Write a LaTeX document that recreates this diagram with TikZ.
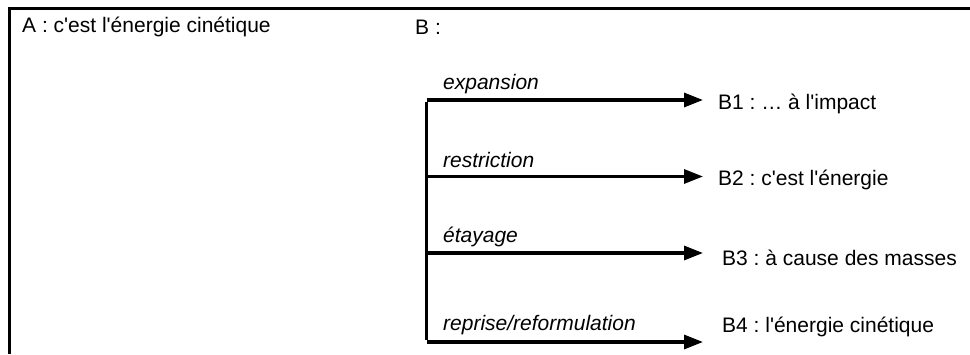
\documentclass[tikz,border=0pt]{standalone}
\usepackage{fontspec}
\setmainfont{Liberation Sans}
\usetikzlibrary{arrows.meta}
\newcommand{\q}{\textquotesingle}
\frenchspacing
\begin{document}
\begin{tikzpicture}[x=1pt,y=-1pt,
  txt/.style={anchor=west,inner sep=0pt,font=\fontsize{21}{25}\selectfont},
  lbl/.style={txt,font=\fontsize{21}{25}\selectfont\itshape},
  thick line/.style={line width=3.2pt},
  arr/.style={thick line,-{Triangle[length=19pt,width=14pt]}}]
\useasboundingbox (0,0) rectangle (970,354);
\draw[thick line] (9.5,354) -- (9.5,8.5) -- (970,8.5);
\node[txt] (A) at (22,27) {A : c\q est l\q énergie cinétique};
\node[txt] (B) at (415,27) {B :};
\coordinate (j1) at (426.5,100);
\coordinate (j2) at (426.5,176.5);
\coordinate (j3) at (426.5,253);
\coordinate (j4) at (426.5,342);
\coordinate (t1) at (703,100);
\coordinate (t2) at (703,176.5);
\coordinate (t3) at (703,253);
\coordinate (t4) at (703,342);
\draw[thick line] ([yshift=-1.6pt]j1) -- ([yshift=1.6pt]j4);
\draw[arr] (j1) -- (t1);
\draw[arr] (j2) -- (t2);
\draw[arr] (j3) -- (t3);
\draw[arr] (j4) -- (t4);
\node[lbl] (l1) at (443,84) {expansion};
\node[lbl] (l2) at (443,160) {restriction};
\node[lbl] (l3) at (443,237) {étayage};
\node[lbl] (l4) at (443,325) {reprise/reformulation};
\node[txt] (B1) at (718,104) {B1 : … à l\q impact};
\node[txt] (B2) at (718,180) {B2 : c\q est l\q énergie};
\node[txt] (B3) at (722,258) {B3 : à cause des masses};
\node[txt] (B4) at (722,327) {B4 : l\q énergie cinétique};
\end{tikzpicture}
\end{document}
